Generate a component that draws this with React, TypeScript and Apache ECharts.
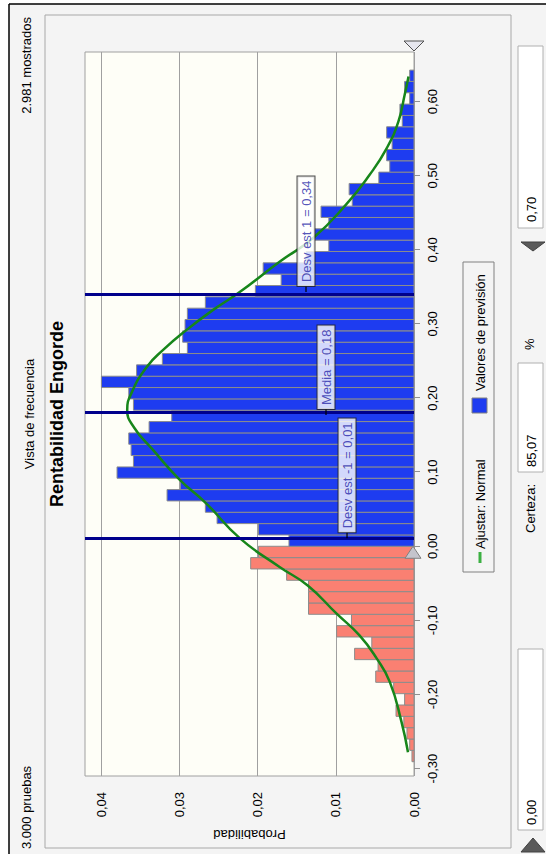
import React, { useEffect, useRef } from 'react';
import * as echarts from 'echarts';

// ---- data ----
const binWidth = 0.0153;
// bins below 0 (from about -0.29 up to 0.00)
const probBelowZero = [
  0.00026, 0.00055, 0.0009, 0.0013, 0.0023, 0.0012, 0.0026, 0.0049, 0.0046, 0.0076,
  0.0054, 0.0099, 0.0080, 0.0135, 0.0135, 0.0135, 0.0163, 0.0209, 0.0199,
];
// bins from 0.00 upward
const probAboveZero = [
  0.0160, 0.0199, 0.0252, 0.0267, 0.0316, 0.0299, 0.0380, 0.0359, 0.0362, 0.0365,
  0.0339, 0.0310, 0.0359, 0.0365, 0.0400, 0.0355, 0.0322, 0.0290, 0.0296, 0.0293,
  0.0290, 0.0267, 0.0203, 0.0170, 0.0193, 0.0138, 0.0109, 0.0127, 0.0109, 0.0119,
  0.0079, 0.0083, 0.0045, 0.0031, 0.0035, 0.0028, 0.0035, 0.0015, 0.0018, 0.00055,
  0.0012, 0.00055,
];
// fitted normal curve
const fitX = [
  -0.278, -0.237, -0.183, -0.151, -0.120, -0.091, -0.053, -0.028, 0.011, 0.058,
  0.090, 0.130, 0.160, 0.184, 0.208, 0.242, 0.265, 0.292, 0.319, 0.343,
  0.384, 0.416, 0.461, 0.501, 0.537, 0.573, 0.609, 0.634,
];
const fitY = [
  0.00077, 0.0016, 0.0031, 0.0048, 0.0070, 0.0099, 0.0136, 0.0172, 0.0223, 0.0266,
  0.0300, 0.0334, 0.0358, 0.0367, 0.0361, 0.0342, 0.0321, 0.0291, 0.0257, 0.0223,
  0.0172, 0.0129, 0.0087, 0.0057, 0.0035, 0.0020, 0.0012, 0.0007,
];
const valueTicks = [-0.3, -0.2, -0.1, 0, 0.1, 0.2, 0.3, 0.4, 0.5, 0.6];
const probTicks = [0, 0.01, 0.02, 0.03, 0.04];
const markerValues = [0.0108, 0.177, 0.343];
const markerLabels = ['Desv est -1 = 0,01', 'Media = 0,18', 'Desv est 1 = 0,34'];
const xMin = -0.31;
const xMax = 0.667;
const yMax = 0.0421;
const certaintyLow = 0;

const FONT = '"Liberation Sans", Arial, sans-serif';
const fmt = (v: number) => v.toFixed(2).replace('.', ',');

export default function App() {
  const ref = useRef<HTMLDivElement>(null);

  useEffect(() => {
    if (!ref.current) return;
    const chart = echarts.init(ref.current, null, { renderer: 'svg', width: 854, height: 546 });

    const firstStart = -probBelowZero.length * binWidth;
    const barsBelow = probBelowZero.map((p, i) => [firstStart + i * binWidth, firstStart + (i + 1) * binWidth, p]);
    const barsAbove = probAboveZero.map((p, i) => [i * binWidth, (i + 1) * binWidth, p]);

    const barRender = (color: string) => (_params: any, api: any) => {
      const a = api.coord([api.value(0), api.value(2)]);
      const b = api.coord([api.value(1), 0]);
      return {
        type: 'rect',
        shape: { x: a[0], y: a[1], width: b[0] - a[0], height: b[1] - a[1] },
        style: { fill: color, stroke: '#8c8c8c', lineWidth: 1 },
      };
    };

    const labelLevels = [0.00857, 0.01126, 0.01382];

    const txt = (text: string, x: number, y: number, opts: any = {}) => ({
      type: 'text',
      z: 100,
      style: {
        text,
        x,
        y,
        fill: opts.fill || '#000',
        font: opts.font || `13px ${FONT}`,
        textAlign: opts.align || 'left',
        textVerticalAlign: 'middle',
      },
    });

    const option: any = {
      animation: false,
      backgroundColor: '#ffffff',
      grid: {
        left: 78, right: 52, top: 85, bottom: 132,
        show: true, backgroundColor: '#fefef7', borderColor: '#a0a0a0', borderWidth: 1,
      },
      xAxis: {
        type: 'value', min: xMin, max: xMax,
        axisLine: { show: false },
        splitLine: { show: false },
        axisTick: { show: true, customValues: valueTicks, length: 6, lineStyle: { color: '#909090' } },
        axisLabel: { customValues: valueTicks, formatter: fmt, fontSize: 13, color: '#000', margin: 12, fontFamily: FONT },
      },
      yAxis: {
        type: 'value', min: 0, max: yMax, interval: 0.01,
        axisLine: { show: false },
        axisTick: { show: true, customValues: probTicks, length: 6, lineStyle: { color: '#a0a0a0' } },
        axisLabel: { customValues: probTicks, formatter: fmt, fontSize: 13, color: '#000', margin: 16, fontFamily: FONT },
        splitLine: { show: true, lineStyle: { color: '#a0a0a0', width: 1 } },
        name: 'Probabilidad', nameLocation: 'middle', nameRotate: 90, nameGap: 38,
        nameTextStyle: { fontSize: 13, color: '#000', fontFamily: FONT },
      },
      series: [
        { type: 'custom', name: 'below', data: barsBelow, encode: { x: [0, 1], y: 2 }, renderItem: barRender('#fa8072'), z: 2 },
        { type: 'custom', name: 'Valores de previsión', data: barsAbove, encode: { x: [0, 1], y: 2 }, renderItem: barRender('#1e3cf0'), z: 2 },
        {
          type: 'line', name: 'Ajustar: Normal', data: fitX.map((x, i) => [x, fitY[i]]),
          smooth: true, symbol: 'none', showSymbol: false,
          lineStyle: { color: '#17861a', width: 2.5 }, z: 3,
        },
        {
          type: 'scatter', name: 'markers',
          data: markerValues.map((v, i) => ({ value: [v, labelLevels[i]], name: markerLabels[i] })),
          symbol: 'rect', symbolSize: [6, 1.5], symbolOffset: [3, 0],
          itemStyle: { color: '#000' },
          label: {
            show: true, position: 'right', distance: 0, formatter: '{b}',
            backgroundColor: '#ffffff', borderColor: '#202020', borderWidth: 1,
            padding: [2, 4, 1, 4], lineHeight: 14,
            color: '#2828a8', fontSize: 13, fontFamily: FONT,
          },
          z: 6,
          markLine: {
            silent: true, symbol: ['none', 'none'],
            lineStyle: { color: '#00008c', width: 3, type: 'solid' },
            label: { show: false },
            data: markerValues.map((v) => ({ xAxis: v })),
            z: 5,
          },
        },
        {
          type: 'custom', name: 'limits', clip: false, z: 7,
          data: [[certaintyLow, 0, 0], [xMax, 0, 1]],
          encode: { x: 0, y: 1 },
          renderItem: (_p: any, api: any) => {
            const p = api.coord([api.value(0), api.value(1)]);
            const kind = api.value(2);
            if (kind === 0) {
              return {
                type: 'polygon',
                shape: { points: [[p[0] - 12, p[1] - 9], [p[0], p[1] - 1], [p[0] - 12, p[1] + 7]] },
                style: { fill: '#c4c4cc', stroke: '#808080', lineWidth: 1 },
              };
            }
            return {
              type: 'polygon',
              shape: { points: [[p[0] + 11, p[1] - 10], [p[0] + 1, p[1]], [p[0] + 11, p[1] + 10]] },
              style: { fill: '#e6e6ee', stroke: '#505050', lineWidth: 1 },
            };
          },
        },
      ],
      graphic: [
        { type: 'rect', z: -10, shape: { x: 0, y: 9, width: 850, height: 537 }, style: { fill: '#f4f4f4' } },
        { type: 'line', z: 50, shape: { x1: 0, y1: 9, x2: 850, y2: 9 }, style: { stroke: '#000', lineWidth: 1.5 } },
        { type: 'line', z: 50, shape: { x1: 850, y1: 9, x2: 850, y2: 546 }, style: { stroke: '#000', lineWidth: 1.5 } },
        { type: 'rect', z: 50, shape: { x: 6, y: 45, width: 833, height: 466 }, style: { fill: 'none', stroke: '#a8a8a8', lineWidth: 1 } },
        txt('3.000 pruebas', 5, 26),
        txt('2.981 mostrados', 837, 26, { align: 'right' }),
        txt('Vista de frecuencia', 440, 29, { align: 'center' }),
        txt('Rentabilidad Engorde', 440, 57, { align: 'center', font: `bold 18px ${FONT}` }),
        // legend
        { type: 'rect', z: 50, shape: { x: 282, y: 463, width: 310, height: 31 }, style: { fill: 'none', stroke: '#808080', lineWidth: 1 } },
        { type: 'line', z: 50, shape: { x1: 291, y1: 480, x2: 302, y2: 480 }, style: { stroke: '#3cb043', lineWidth: 3 } },
        txt('Ajustar: Normal', 305, 480),
        { type: 'rect', z: 50, shape: { x: 441, y: 472, width: 15, height: 15 }, style: { fill: '#1e3cf0', stroke: '#808080', lineWidth: 1 } },
        txt('Valores de previsión', 463, 480),
        // certainty controls
        { type: 'rect', z: 50, shape: { x: 24, y: 518, width: 181, height: 25 }, style: { fill: '#fff', stroke: '#b0b0b0', lineWidth: 1 } },
        txt('0,00', 29, 531),
        { type: 'polygon', z: 50, shape: { points: [[2, 521], [16, 533], [2, 545]] }, style: { fill: '#5a5a5a', stroke: '#404040', lineWidth: 1 } },
        txt('Certeza:', 321, 530),
        { type: 'rect', z: 50, shape: { x: 382, y: 518, width: 109, height: 25 }, style: { fill: '#fff', stroke: '#b0b0b0', lineWidth: 1 } },
        txt('85,07', 387, 531),
        txt('%', 504, 529),
        { type: 'polygon', z: 50, shape: { points: [[612, 521], [603, 533], [612, 545]] }, style: { fill: '#5a5a5a', stroke: '#404040', lineWidth: 1 } },
        { type: 'rect', z: 50, shape: { x: 626, y: 518, width: 182, height: 25 }, style: { fill: '#fff', stroke: '#b0b0b0', lineWidth: 1 } },
        txt('0,70', 632, 531),
      ],
    };

    chart.setOption(option);
    return () => chart.dispose();
  }, []);

  return (
    <div style={{ position: 'fixed', left: 0, top: 0, width: 546, height: 854, overflow: 'hidden', background: '#fff' }}>
      <div
        ref={ref}
        style={{
          position: 'absolute', left: 0, top: 0, width: 854, height: 546,
          transformOrigin: '0 0', transform: 'translate(0px, 854px) rotate(-90deg)',
        }}
      />
    </div>
  );
}
